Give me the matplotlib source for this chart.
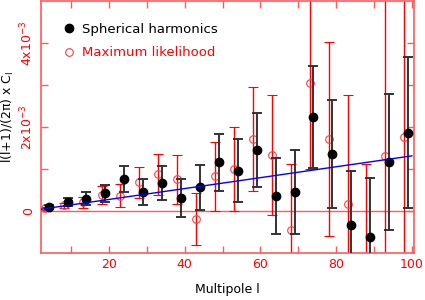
import matplotlib
matplotlib.use("Agg")
import matplotlib.pyplot as plt
from matplotlib.lines import Line2D
import numpy as np

# --- data (C_l values in units of 1e-3) ---
l_sh = [4, 9, 14, 19, 24, 29, 34, 39, 44, 49, 54, 59, 64, 69, 74, 79, 84, 89, 94, 99]
cl_sh = [0.09, 0.21, 0.29, 0.42, 0.76, 0.46, 0.66, 0.30, 0.56, 1.16,
         0.96, 1.45, 0.35, 0.46, 2.23, 1.35, -0.33, -0.62, 1.17, 1.86]
err_sh = [0.05, 0.10, 0.15, 0.20, 0.30, 0.31, 0.40, 0.45, 0.54, 0.68,
          0.75, 0.88, 0.90, 1.00, 1.22, 1.29, 1.29, 1.41, 1.62, 1.80]

l_ml = [3, 8, 13, 18, 23, 28, 33, 38, 43, 48, 53, 58, 63, 68, 73, 78, 83, 88, 93, 98]
cl_ml = [0.06, 0.14, 0.21, 0.38, 0.36, 0.68, 0.87, 0.75, -0.20, 0.82,
         1.00, 1.71, 1.33, -0.45, 3.04, 1.71, 0.16, -1.60, 1.31, 1.75]
err_ml = [0.03, 0.06, 0.13, 0.21, 0.27, 0.37, 0.48, 0.58, 0.62, 0.83,
          1.00, 1.24, 1.43, 1.56, 2.05, 2.30, 2.60, 2.72, 3.80, 4.00]

# linear fit line
l_fit = [2, 100]
cl_fit = [0.04, 1.31]

scale = 1e-3
red = "#ff0000"
pink = "#ff5a5a"

fig = plt.figure(figsize=(4.25, 3.0), dpi=100)
ax = fig.add_axes([0.0965, 0.157, 0.877, 0.840])

ax.axhline(0, color=pink, linewidth=1.0, zorder=1)
ax.plot(l_fit, np.array(cl_fit) * scale, color="#0000ff", linewidth=1.0, zorder=4)

ax.errorbar(l_ml, np.array(cl_ml) * scale, yerr=np.array(err_ml) * scale,
            fmt="o", mfc="none", mec="#ff4040", mew=0.8, ms=5.5,
            ecolor=red, elinewidth=1.0, capsize=3.5, capthick=1.0, zorder=2)
ax.errorbar(l_sh, np.array(cl_sh) * scale, yerr=np.array(err_sh) * scale,
            fmt="o", color="black", ms=6, ecolor="#333333",
            elinewidth=1.4, capsize=3.5, capthick=1.4, zorder=3)

ax.set_xlim(2, 100.5)
ax.set_ylim(-1e-3, 5e-3)

ax.set_xticks([20, 40, 60, 80, 100])
ax.set_xticks([10, 30, 50, 70, 90], minor=True)
ax.set_yticks([0, 2e-3, 4e-3])
ax.set_yticklabels(["0", "2x10$^{-3}$", "4x10$^{-3}$"], rotation=90, va="center")
ax.set_yticks([1e-3, 3e-3], minor=True)

ax.tick_params(which="both", direction="in", top=True, right=True,
               color=pink, labelcolor=red, labelsize=9, width=1.0)
ax.tick_params(which="major", length=5)
ax.tick_params(which="minor", length=5)
ax.tick_params(axis="y", pad=4)
for s in ax.spines.values():
    s.set_color(pink)
    s.set_linewidth(1.2)

ax.set_xlabel("Multipole l", fontsize=9, labelpad=9)
ax.set_ylabel("l(l+1)/(2π) x C$_\\mathrm{l}$", fontsize=9)
ax.yaxis.set_label_coords(-0.066, 0.54)

# legend
handles = [Line2D([], [], marker="o", color="black", ls="none", ms=6),
           Line2D([], [], marker="o", mfc="none", mec="#ff4040", mew=0.8, ls="none", ms=5.5)]
leg = ax.legend(handles, ["Spherical harmonics", "Maximum likelihood"],
                loc="upper left", bbox_to_anchor=(0.025, 0.96), frameon=False,
                fontsize=9.5, handlelength=1.0, handletextpad=0.5, labelspacing=0.8)
leg.get_texts()[1].set_color(red)

fig.savefig("out.png", dpi=100)
